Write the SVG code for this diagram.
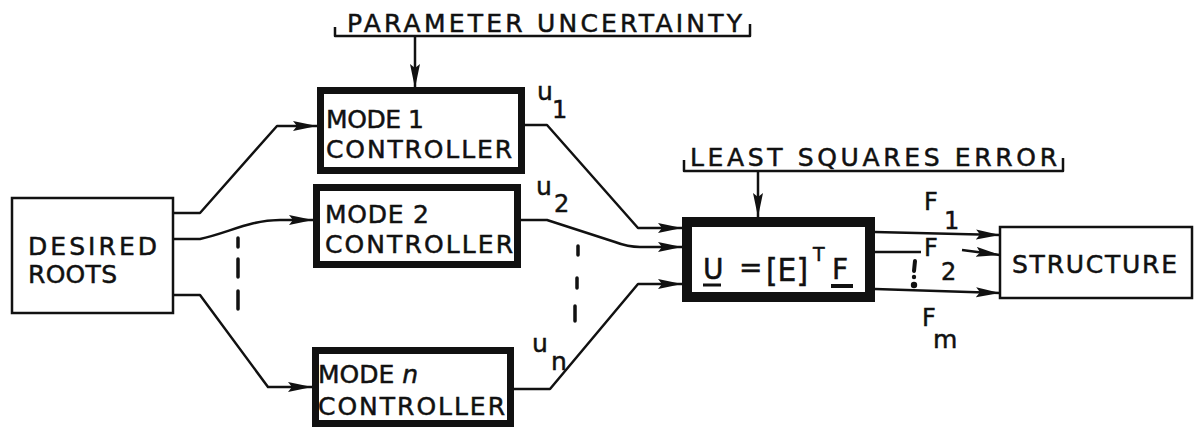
<svg xmlns="http://www.w3.org/2000/svg" width="1197" height="434" viewBox="0 0 1197 434">
  <style>
    text { font-family: "DejaVu Sans", "Liberation Sans", sans-serif; fill: #111; stroke: #111; stroke-width: 0.5; }
    .box { fill: #fff; stroke: #111; stroke-width: 2.5; }
    .heavy { fill: #fff; stroke: #111; stroke-width: 7; }
    .heaviest { fill: #fff; stroke: #111; stroke-width: 10; }
    .wire { fill: none; stroke: #111; stroke-width: 2.5; stroke-linejoin: round; }
    .arrow { marker-end: url(#head); }
    .dash { fill: none; stroke: #111; stroke-width: 3.5; stroke-linecap: round; }
    .lbl { font-size: 25px; }
    .note { font-size: 25px; }
    .sym { font-size: 25px; }
    .sub { font-size: 24px; }
  </style>
  <defs>
    <marker id="head" markerUnits="userSpaceOnUse" markerWidth="26" markerHeight="12" refX="24" refY="5" orient="auto">
      <path d="M0,0 L24,5 L0,10 L4,5 Z" fill="#111"/>
    </marker>
  </defs>

  <rect width="1197" height="434" fill="#fff"/>

  <!-- connectors -->
  <g id="connectors">
    <path class="wire arrow" d="M173,213 H200 L277,126 H317"/>
    <path class="wire arrow" d="M173,239 H200 C228,233 250,220 280,220 H313"/>
    <path class="wire arrow" d="M173,295 H200 L268,387 H312"/>
    <path class="wire arrow" d="M525,125 H547 L638,228 H682"/>
    <path class="wire arrow" d="M521,220 H547 L615,242 Q628,247 640,247 H682"/>
    <path class="wire arrow" d="M514,389 H550 L638,284 H682"/>
    <path class="wire arrow" d="M415,36 V88"/>
    <path class="wire arrow" d="M758,171 V217"/>
    <path class="wire arrow" d="M875,232 L1000,235"/>
    <path class="wire" d="M875,252 H921"/>
    <path class="wire arrow" d="M962,250 L1000,255"/>
    <path class="wire arrow" d="M875,289 L1000,293"/>
    <!-- ellipsis marks between parallel branches -->
    <path class="dash" d="M238,238 V247 M238,259 V277 M238,291 V309"/>
    <path class="dash" d="M578,246 V255 M577,278 V288 M575,306 V321"/>
    <path d="M915,261 L914,271" stroke="#111" stroke-width="4" stroke-linecap="round"/>
    <circle cx="914" cy="277" r="2.2" fill="#111"/>
    <circle cx="914" cy="285" r="3.2" fill="#111"/>
  </g>

  <!-- parameter uncertainty annotation -->
  <g id="parameter-uncertainty">
    <path class="wire" d="M335,27 V36 H750 V24" stroke-width="2.2"/>
    <text class="note" x="347" y="32" textLength="395" lengthAdjust="spacing">PARAMETER UNCERTAINTY</text>
  </g>

  <!-- least squares annotation -->
  <g id="least-squares-error">
    <path class="wire" d="M684,160 V171 H1063 V158" stroke-width="2.2"/>
    <text class="note" x="690" y="166" textLength="367" lengthAdjust="spacing">LEAST SQUARES ERROR</text>
  </g>

  <g id="desired-roots">
    <rect class="box" x="12" y="198" width="161" height="115"/>
    <text class="lbl" x="28" y="255" font-size="27" textLength="129" lengthAdjust="spacing">DESIRED</text>
    <text class="lbl" x="28" y="283" font-size="27" textLength="89" lengthAdjust="spacing">ROOTS</text>
  </g>

  <g id="mode-1">
    <rect class="heavy" x="320.5" y="90.5" width="201" height="80"/>
    <text class="lbl" x="326" y="128" textLength="98" lengthAdjust="spacing">MODE 1</text>
    <text class="lbl" x="326" y="158" textLength="186" lengthAdjust="spacing">CONTROLLER</text>
  </g>

  <g id="mode-2">
    <rect class="heavy" x="316.5" y="187.5" width="201" height="77"/>
    <text class="lbl" x="325" y="223" textLength="104" lengthAdjust="spacing">MODE 2</text>
    <text class="lbl" x="325" y="253" textLength="188" lengthAdjust="spacing">CONTROLLER</text>
  </g>

  <g id="mode-n">
    <rect class="heavy" x="315.5" y="350.5" width="195" height="73"/>
    <text class="lbl" x="318" y="383">MODE <tspan font-style="italic">n</tspan></text>
    <text class="lbl" x="318" y="415" textLength="187" lengthAdjust="spacing">CONTROLLER</text>
  </g>

  <g id="least-squares">
    <rect class="heaviest" x="687" y="222" width="183" height="75"/>
    <text x="703" y="279" font-size="28">U</text>
    <line x1="703" y1="285" x2="721" y2="285" stroke="#111" stroke-width="3"/>
    <text x="739" y="277" font-size="28">=</text>
    <text x="766" y="281" font-size="32" textLength="42" lengthAdjust="spacingAndGlyphs">[E]</text>
    <text x="813" y="261" font-size="19">T</text>
    <text x="832" y="279" font-size="28">F</text>
    <line x1="831" y1="286" x2="853" y2="286" stroke="#111" stroke-width="4"/>
  </g>

  <g id="structure">
    <rect class="box" x="1000" y="227" width="192" height="71"/>
    <text class="lbl" x="1012" y="273" font-size="27" textLength="165" lengthAdjust="spacing">STRUCTURE</text>
  </g>

  <!-- signal labels -->
  <g id="labels">
    <text class="sym" x="537" y="100">u</text>
    <text class="sub" x="552" y="118">1</text>
    <text class="sym" x="536" y="195">u</text>
    <text class="sub" x="554" y="212">2</text>
    <text class="sym" x="532" y="352">u</text>
    <text class="sym" x="551" y="370">n</text>
    <text class="sub" x="924" y="210">F</text>
    <text class="sub" x="944" y="229">1</text>
    <text class="sub" x="924" y="256">F</text>
    <text class="sub" x="941" y="280">2</text>
    <text class="sub" x="922" y="326">F</text>
    <text class="sym" x="933" y="348">m</text>
  </g>
</svg>
